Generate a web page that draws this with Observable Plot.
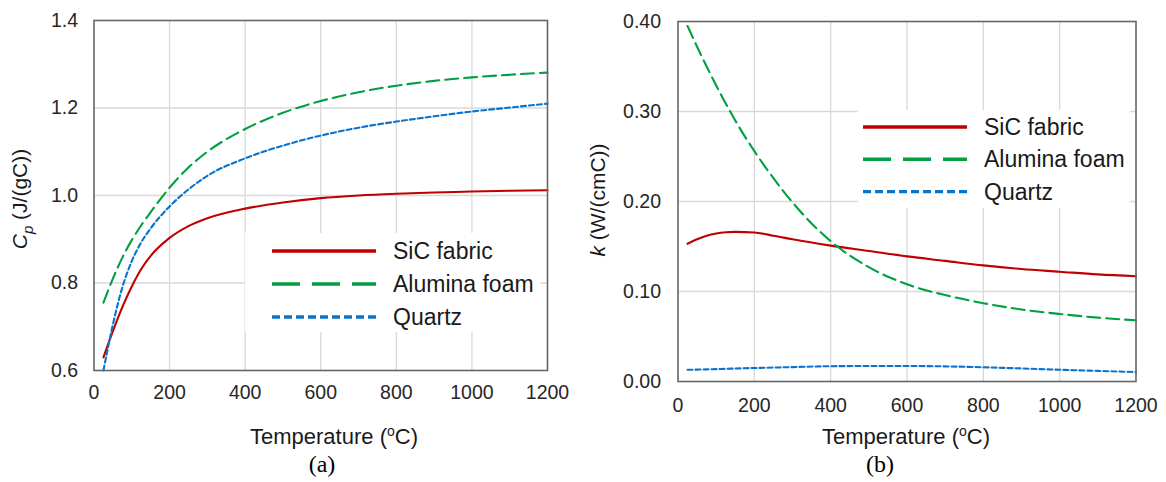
<!DOCTYPE html>
<html>
<head>
<meta charset="utf-8">
<script src="https://cdn.jsdelivr.net/npm/d3@7"></script>
<script src="https://cdn.jsdelivr.net/npm/@observablehq/plot@0.6"></script>
<style>
  body { margin: 0; background: #fff; }
  #wrap { position: relative; width: 1166px; height: 482px; overflow: hidden; background: #fff;
          font-family: "Liberation Sans", Arial, sans-serif; color: #262626; }
  .panel { position: absolute; top: 0; }
  .caption { position: absolute; top: 452px; font-family: "Liberation Serif", "Times New Roman", serif;
             font-size: 24px; color: #000; transform: translateX(-50%); line-height: 1; }
  .legend { position: absolute; background: #fff; }
</style>
</head>
<body>
<div id="wrap"></div>
<script>
// Temperature grid (°C) at which the property curves are sampled
const temperature = [25, 50, 75, 100, 125, 150, 200, 250, 300, 400, 500, 600, 700, 800, 900, 1000, 1100, 1200];

// Specific heat Cp, J/(g·C)
const cpSiC     = [0.630, 0.690, 0.745, 0.792, 0.832, 0.862, 0.903, 0.930, 0.948, 0.970, 0.984, 0.994, 1.000, 1.004, 1.007, 1.009, 1.011, 1.012];
const cpAlumina = [0.755, 0.810, 0.858, 0.898, 0.932, 0.962, 1.018, 1.064, 1.100, 1.152, 1.189, 1.216, 1.236, 1.251, 1.262, 1.270, 1.276, 1.281];
const cpQuartz  = [0.600, 0.705, 0.790, 0.850, 0.893, 0.925, 0.975, 1.014, 1.045, 1.085, 1.114, 1.137, 1.155, 1.169, 1.181, 1.192, 1.201, 1.210];

// Thermal conductivity k, W/(cm·C)
const kSiC      = [0.153, 0.158, 0.162, 0.1645, 0.1658, 0.1662, 0.1655, 0.162, 0.158, 0.151, 0.145, 0.139, 0.134, 0.129, 0.125, 0.122, 0.119, 0.117];
const kAlumina  = [0.395, 0.372, 0.350, 0.329, 0.309, 0.290, 0.256, 0.226, 0.199, 0.156, 0.127, 0.108, 0.096, 0.087, 0.080, 0.075, 0.071, 0.068];
const kQuartz   = [0.013, 0.0132, 0.0135, 0.0138, 0.0141, 0.0144, 0.015, 0.0155, 0.016, 0.017, 0.0172, 0.0172, 0.0168, 0.0158, 0.0145, 0.013, 0.0118, 0.0105];

const seriesNames = ["SiC fabric", "Alumina foam", "Quartz"];
const tempTicks = [0, 200, 400, 600, 800, 1000, 1200];
const cpTicks = [0.6, 0.8, 1.0, 1.2, 1.4];
const kTicks = [0.0, 0.1, 0.2, 0.3, 0.4];

const styles = {
  "SiC fabric":   {stroke: "#C00000", dash: null,   legendDash: null},
  "Alumina foam": {stroke: "#00A040", dash: "13,6", legendDash: "28,12"},
  "Quartz":       {stroke: "#0A74CC", dash: "5,3",  legendDash: "8,4"}
};

function rows(valuesBySeries) {
  return seriesNames.flatMap((name, s) =>
    temperature.map((t, i) => ({series: name, t, v: valuesBySeries[s][i]})));
}

const FONT = "'Liberation Sans', Arial, sans-serif";
const GRID = "#d9d9d9";
const FRAME = "#666666";
const TICK_FONT = 19.5;

function panel({data, yTicks, yDomain, yFormat, width, height, margins, tickPadX, tickPadY}) {
  const innerX = tempTicks.slice(1, -1);
  const innerY = yTicks.slice(1, -1);
  return Plot.plot({
    width, height,
    marginLeft: margins[0], marginRight: margins[1], marginTop: margins[2], marginBottom: margins[3],
    style: {fontFamily: FONT, fontSize: TICK_FONT + "px", color: "#262626", background: "transparent", overflow: "visible"},
    x: {domain: [0, 1200]},
    y: {domain: yDomain},
    marks: [
      Plot.gridX(innerX, {stroke: GRID, strokeOpacity: 1, strokeWidth: 1.3}),
      Plot.gridY(innerY, {stroke: GRID, strokeOpacity: 1, strokeWidth: 1.3}),
      ...seriesNames.map(name => Plot.line(data.filter(d => d.series === name), {
        x: "t", y: "v", curve: "monotone-x",
        stroke: styles[name].stroke, strokeWidth: 2.1,
        strokeDasharray: styles[name].dash
      })),
      Plot.frame({stroke: FRAME, strokeWidth: 1.6}),
      Plot.axisX({ticks: tempTicks, tickSize: 0, tickPadding: tickPadX, fontSize: TICK_FONT, tickFormat: d3.format("d"), label: null}),
      Plot.axisY({ticks: yTicks, tickSize: 0, tickPadding: tickPadY, fontSize: TICK_FONT, tickFormat: yFormat, label: null})
    ]
  });
}

const wrap = d3.select("#wrap");

function addPanel(cfg) {
  const div = wrap.append("div").attr("class", "panel").style("left", cfg.left + "px");
  div.node().appendChild(panel(cfg));
  // x-axis title with superscript degree "o"
  div.append("div")
    .style("position", "absolute").style("left", cfg.xTitle[0] + "px").style("top", cfg.xTitle[1] + "px")
    .style("transform", "translate(-50%, -50%)").style("white-space", "nowrap")
    .style("font-size", "22px").style("color", "#1a1a1a")
    .html('Temperature (<sup style="font-size:14px;vertical-align:8px;line-height:0">o</sup>C)');
  // y-axis title, rotated
  div.append("div")
    .style("position", "absolute").style("left", cfg.yTitle[0] + "px").style("top", cfg.yTitle[1] + "px")
    .style("transform", "translate(-50%, -50%) rotate(-90deg)").style("white-space", "nowrap")
    .style("font-size", "21px").style("color", "#1a1a1a")
    .html(cfg.yTitleHtml);
  // legend
  const leg = wrap.append("div").attr("class", "legend")
    .style("left", cfg.legend.left + "px").style("top", cfg.legend.top + "px")
    .style("width", cfg.legend.width + "px").style("height", cfg.legend.height + "px");
  const svg = leg.append("svg").attr("width", cfg.legend.width).attr("height", cfg.legend.height);
  seriesNames.forEach((name, i) => {
    const y = cfg.legend.y0 + i * cfg.legend.step;
    svg.append("line")
      .attr("x1", cfg.legend.x1).attr("x2", cfg.legend.x2).attr("y1", y).attr("y2", y)
      .attr("stroke", styles[name].stroke).attr("stroke-width", 3.4)
      .attr("stroke-dasharray", styles[name].legendDash);
    svg.append("text")
      .attr("x", cfg.legend.tx).attr("y", y).attr("dy", "0.35em")
      .attr("font-family", FONT).attr("font-size", 23).attr("fill", "#1a1a1a")
      .text(name);
  });
  // panel caption
  wrap.append("div").attr("class", "caption").style("left", cfg.caption + "px").text(cfg.captionText);
}

addPanel({
  left: 0, width: 580, height: 450, margins: [93.5, 33, 20, 80],
  data: rows([cpSiC, cpAlumina, cpQuartz]), yTicks: cpTicks, yDomain: [0.6, 1.4],
  yFormat: d3.format(".1f"), tickPadX: 15, tickPadY: 16,
  xTitle: [334, 437], yTitle: [22, 199],
  yTitleHtml: '<i>C</i><sub style="font-size:15px;font-style:italic">p</sub> (J/(gC))',
  legend: {left: 245, top: 233, width: 295, height: 99, x1: 27, x2: 131, tx: 148, y0: 18, step: 33},
  caption: 322, captionText: "(a)"
});

addPanel({
  left: 580, width: 586, height: 450, margins: [97.5, 30.5, 21, 69],
  data: rows([kSiC, kAlumina, kQuartz]), yTicks: kTicks, yDomain: [0, 0.4],
  yFormat: d3.format(".2f"), tickPadX: 17, tickPadY: 17,
  xTitle: [326, 437], yTitle: [18, 200],
  yTitleHtml: '<i>k</i> (W/(cmC))',
  legend: {left: 858, top: 110, width: 272, height: 98, x1: 5, x2: 109, tx: 126, y0: 17, step: 32.3},
  caption: 880, captionText: "(b)"
});
</script>
</body>
</html>
